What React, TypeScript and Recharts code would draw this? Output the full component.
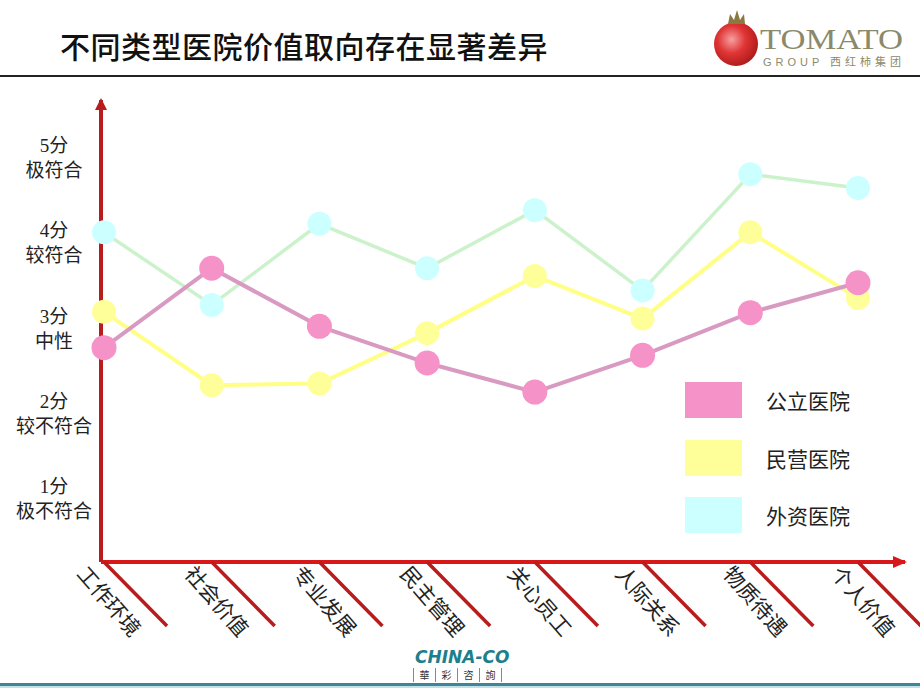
import React from 'react';
import { LineChart, Line, XAxis, YAxis } from 'recharts';

const categories = ['工作环境', '社会价值', '专业发展', '民主管理', '关心员工', '人际关系', '物质待遇', '个人价值'];
const publicHosp = [2.77, 3.7, 3.02, 2.59, 2.25, 2.68, 3.18, 3.53];
const privateHosp = [3.19, 2.33, 2.35, 2.94, 3.61, 3.11, 4.12, 3.35];
const foreignHosp = [4.12, 3.27, 4.22, 3.7, 4.38, 3.44, 4.8, 4.64];

const yTickValues = [1, 2, 3, 4, 5];
const yTickScores = ['1分', '2分', '3分', '4分', '5分'];
const yTickDescs = ['极不符合', '较不符合', '中性', '较符合', '极符合'];

const seriesNames = ['公立医院', '民营医院', '外资医院'];
const footerChars = ['華', '彩', '咨', '詢'];

const data = categories.map((name, i) => ({
  name,
  publicHosp: publicHosp[i],
  privateHosp: privateHosp[i],
  foreignHosp: foreignHosp[i],
}));

const FONT = '"Liberation Serif", "Noto Sans CJK SC", serif';

const YTick = (props: any) => {
  const { x, y, payload } = props;
  const i = yTickValues.indexOf(payload.value);
  const cx = x - 47;
  return (
    <g fontFamily={FONT} fontSize={19} fill="#222">
      <text x={cx} y={y - 12} textAnchor="middle" dominantBaseline="central">
        {yTickScores[i]}
      </text>
      <text x={cx} y={y + 13} textAnchor="middle" dominantBaseline="central">
        {yTickDescs[i]}
      </text>
    </g>
  );
};

const XTick = (props: any) => {
  const { x, y, payload } = props;
  const tx = x - 23;
  const ty = y + 8;
  return (
    <g>
      <line x1={x} y1={y} x2={x + 63} y2={y + 64} stroke="#b81c1c" strokeWidth={3.5} />
      <text
        x={tx}
        y={ty}
        transform={`rotate(49 ${tx} ${ty})`}
        textAnchor="start"
        dominantBaseline="central"
        fontFamily={FONT}
        fontSize={21}
        fill="#222"
      >
        {payload.value}
      </text>
    </g>
  );
};

const legendColors = ['#f592c8', '#ffff99', '#ccffff'];

const App: React.FC = () => {
  return (
    <div style={{ position: 'absolute', left: 0, top: 0, width: 920, height: 690, background: '#fff', overflow: 'hidden' }}>
      <svg width={0} height={0} style={{ position: 'absolute' }}>
        <defs>
          <marker id="arrowY" viewBox="0 0 12 12" refX={10} refY={6} markerWidth={12} markerHeight={12} markerUnits="userSpaceOnUse" orient="auto-start-reverse">
            <path d="M0,0 L12,6 L0,12 z" fill="#b81c1c" />
          </marker>
          <marker id="arrowX" viewBox="0 0 14 12" refX={12} refY={6} markerWidth={14} markerHeight={12} markerUnits="userSpaceOnUse" orient="auto">
            <path d="M0,0 L14,6 L0,12 z" fill="#d81818" />
          </marker>
        </defs>
      </svg>

      {/* header */}
      <div
        style={{
          position: 'absolute',
          left: 60,
          top: 26,
          fontFamily: '"Noto Sans CJK SC", sans-serif',
          fontSize: 30,
          fontWeight: 500,
          letterSpacing: 0.5,
          lineHeight: '38px',
          color: '#111',
          whiteSpace: 'nowrap',
        }}
      >
        不同类型医院价值取向存在显著差异
      </div>
      <svg width={210} height={72} style={{ position: 'absolute', left: 710, top: 4 }}>
        <defs>
          <radialGradient id="tomatoGrad" cx="0.4" cy="0.4" r="0.7">
            <stop offset="0%" stopColor="#f6a0a0" />
            <stop offset="45%" stopColor="#e03535" />
            <stop offset="100%" stopColor="#a51515" />
          </radialGradient>
        </defs>
        <circle cx={26} cy={40} r={22} fill="url(#tomatoGrad)" />
        <path d="M18,20 L20,10 L24,16 L27,6 L30,16 L34,10 L35,20 z" fill="#8a7a40" />
        <text x={50} y={45} fontFamily='"Liberation Serif", serif' fontSize={30} textLength={143} lengthAdjust="spacingAndGlyphs" fill="#8a8a6a">
          TOMATO
        </text>
        <text x={53} y={62} fontFamily='"Liberation Sans", "Noto Sans CJK SC", sans-serif' fontSize={11} textLength={138} fill="#8a8a6a">
          GROUP 西红柿集团
        </text>
      </svg>
      <div style={{ position: 'absolute', left: 0, top: 75, width: 920, height: 2, background: '#222' }} />

      {/* chart */}
      <div style={{ position: 'absolute', left: 0, top: 0 }}>
        <LineChart width={920} height={690} data={data} margin={{ top: 100, right: 15, bottom: 28, left: 0 }}>
          <XAxis
            dataKey="name"
            height={100}
            interval={0}
            padding={{ left: 3, right: 47 }}
            tickLine={false}
            tickSize={0}
            tickMargin={0}
            tick={<XTick />}
            axisLine={{ stroke: '#d81818', strokeWidth: 4, markerEnd: 'url(#arrowX)' }}
          />
          <YAxis
            type="number"
            domain={[0.26, 5.67]}
            ticks={yTickValues}
            width={101}
            tickLine={false}
            tickSize={0}
            tickMargin={0}
            tick={<YTick />}
            axisLine={{ stroke: '#b81c1c', strokeWidth: 4, markerStart: 'url(#arrowY)' }}
          />
          <Line
            dataKey="foreignHosp"
            name={seriesNames[2]}
            type="linear"
            stroke="#ccf2cc"
            strokeWidth={3.5}
            dot={{ r: 12, fill: '#ccffff', stroke: 'none' }}
            activeDot={false}
            isAnimationActive={false}
          />
          <Line
            dataKey="privateHosp"
            name={seriesNames[1]}
            type="linear"
            stroke="#ffff86"
            strokeWidth={4}
            dot={{ r: 12, fill: '#ffff99', stroke: 'none' }}
            activeDot={false}
            isAnimationActive={false}
          />
          <Line
            dataKey="publicHosp"
            name={seriesNames[0]}
            type="linear"
            stroke="#d99ac2"
            strokeWidth={4}
            dot={{ r: 12.5, fill: '#f592c8', stroke: 'none' }}
            activeDot={false}
            isAnimationActive={false}
          />
        </LineChart>
      </div>

      {/* legend */}
      {seriesNames.map((n, i) => (
        <div key={n} style={{ position: 'absolute', left: 685, top: 382 + i * 57.5, height: 36, display: 'flex', alignItems: 'center' }}>
          <div style={{ width: 57, height: 36, background: legendColors[i] }} />
          <span
            style={{
              marginLeft: 24,
              fontFamily: FONT,
              fontSize: 21,
              color: '#222',
              whiteSpace: 'nowrap',
            }}
          >
            {n}
          </span>
        </div>
      ))}

      {/* footer */}
      <div
        style={{
          position: 'absolute',
          left: 415,
          top: 646,
          fontFamily: '"DejaVu Sans", sans-serif',
          fontStyle: 'italic',
          fontWeight: 700,
          fontSize: 17,
          lineHeight: '22px',
          color: '#1e7f8c',
          whiteSpace: 'nowrap',
        }}
      >
        CHINA-CO
      </div>
      <div
        style={{
          position: 'absolute',
          left: 413,
          top: 668,
          display: 'flex',
          borderLeft: '1px solid #888',
          fontFamily: '"Noto Sans CJK TC", sans-serif',
          fontSize: 10,
          lineHeight: '14px',
          color: '#333',
        }}
      >
        {footerChars.map((c) => (
          <span key={c} style={{ width: 21, textAlign: 'center', borderRight: '1px solid #888' }}>
            {c}
          </span>
        ))}
      </div>
      <div style={{ position: 'absolute', left: 0, top: 683, width: 920, height: 3, background: '#3f8595' }} />
      <div style={{ position: 'absolute', left: 0, top: 686, width: 920, height: 2, background: '#bfe0e6' }} />
    </div>
  );
};

export default App;
